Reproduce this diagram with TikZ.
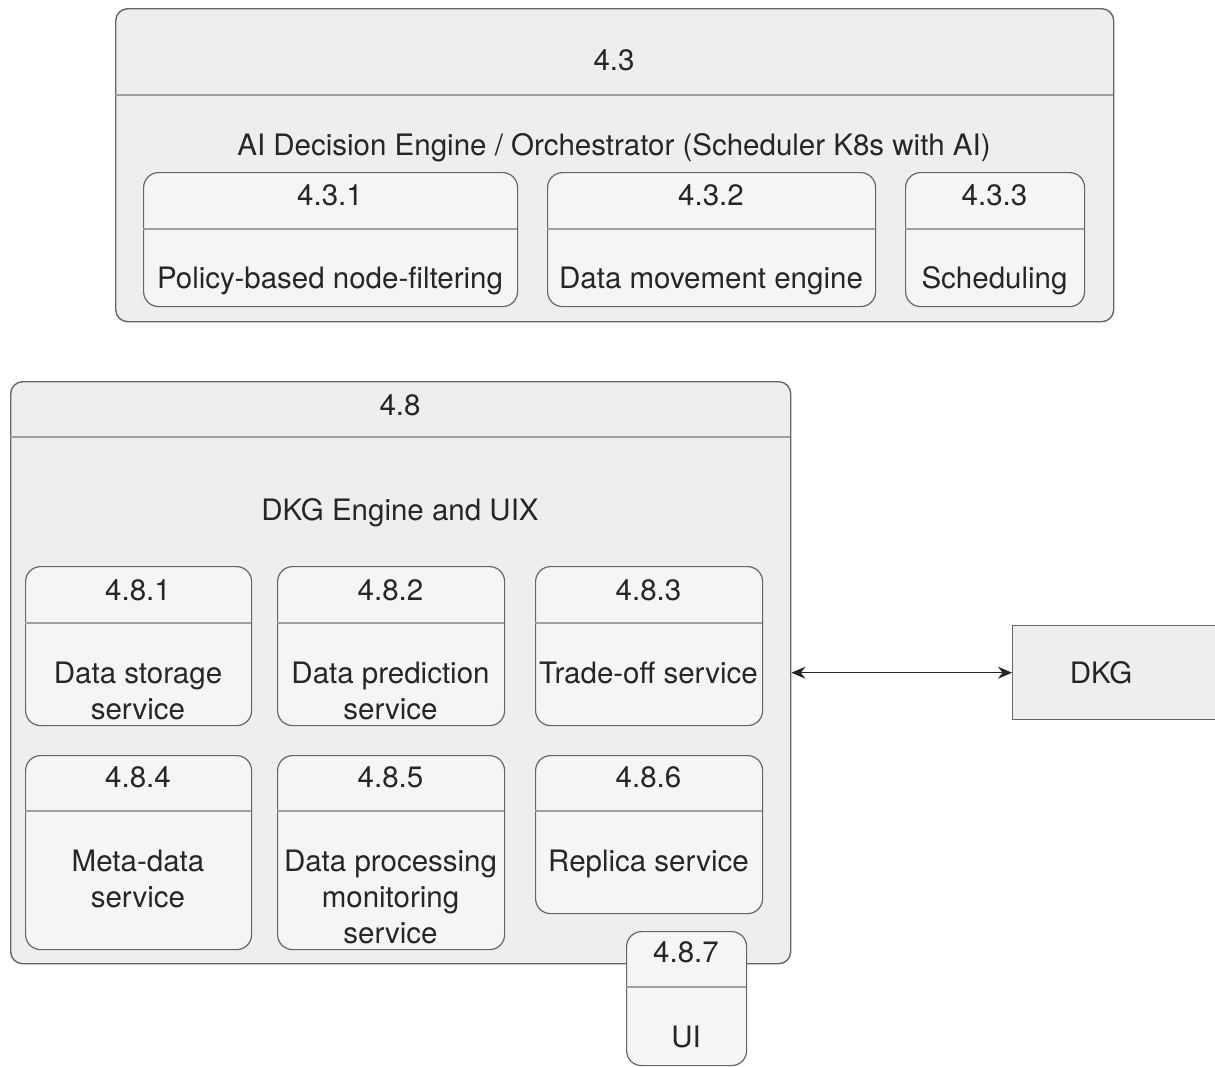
\documentclass[tikz,border=0pt]{standalone}
\usepackage{fontspec}
\setmainfont{TeX Gyre Heros}
\usetikzlibrary{arrows.meta}

\definecolor{lanefill}{HTML}{EEEEEE}
\definecolor{cellfill}{HTML}{F5F5F5}
\definecolor{edgegray}{HTML}{666666}
\definecolor{sepgray}{HTML}{A0A0A0}
\definecolor{ink}{HTML}{262626}

% a box with a title strip: name, x1, y1, x2, y2, y of the strip line, style
\newcommand{\stripbox}[7]{%
  \node[#7, anchor=north west, inner sep=0pt,
        minimum width={(#4-#2)*1pt}, minimum height={(#5-#3)*1pt}] (#1) at (#2,#3) {};
  \draw[sepline] (#2,#6) -- (#4,#6);
}

\begin{document}
\begin{tikzpicture}[x=1pt,y=-1pt,
  lane/.style={draw=edgegray, fill=lanefill, line width=1.4pt, rounded corners=12pt},
  cell/.style={draw=edgegray, fill=cellfill, line width=1.2pt, rounded corners=15pt},
  plainbox/.style={draw=edgegray, fill=lanefill, line width=1.4pt},
  sepline/.style={draw=sepgray, line width=1.2pt},
  lbl/.style={text=ink, font=\fontsize{29.5}{36}\selectfont, inner sep=0pt, align=center},
  conn/.style={draw=black!85, line width=1.5pt, {Stealth[length=14pt,width=12pt]}-{Stealth[length=14pt,width=12pt]}}
]
\useasboundingbox (0,0) rectangle (1215,1066);
\clip (0,0) rectangle (1215,1066);

% ---- 4.3 AI decision engine ----
\stripbox{e43}{115}{8}{1113}{321}{95}{lane}
\node[lbl] (e43t) at (614,60) {4.3};
\node[lbl] (e43b) at (614,148) {AI Decision Engine / Orchestrator (Scheduler K8s with AI)};

\stripbox{e431}{143}{172}{517}{306}{229}{cell}
\node[lbl] (e431t) at (330,195) {4.3.1};
\node[lbl] (e431b) at (330,281) {Policy-based node-filtering};

\stripbox{e432}{547}{172}{875}{306}{229}{cell}
\node[lbl] (e432t) at (711,195) {4.3.2};
\node[lbl] (e432b) at (711,281) {Data movement engine};

\stripbox{e433}{905}{172}{1084}{306}{229}{cell}
\node[lbl] (e433t) at (994.5,195) {4.3.3};
\node[lbl] (e433b) at (994.5,281) {Scheduling};

% ---- 4.8 DKG engine and UIX ----
\stripbox{e48}{10}{381}{790}{963}{437}{lane}
\node[lbl] (e48t) at (400,405) {4.8};
\node[lbl] (e48b) at (400,513) {DKG Engine and UIX};

\stripbox{e481}{25}{566}{251}{725}{623}{cell}
\node[lbl] (e481t) at (138,590) {4.8.1};
\node[lbl] (e481b) at (138,691) {Data storage\\service};

\stripbox{e482}{277}{566}{504}{725}{623}{cell}
\node[lbl] (e482t) at (390.5,590) {4.8.2};
\node[lbl] (e482b) at (390.5,691) {Data prediction\\service};

\stripbox{e483}{535}{566}{762}{725}{623}{cell}
\node[lbl] (e483t) at (648.5,590) {4.8.3};
\node[lbl] (e483b) at (648.5,673) {Trade-off service};

\stripbox{e484}{25}{755}{251}{949}{811}{cell}
\node[lbl] (e484t) at (138,777) {4.8.4};
\node[lbl] (e484b) at (138,879) {Meta-data\\service};

\stripbox{e485}{277}{755}{504}{949}{811}{cell}
\node[lbl] (e485t) at (390.5,777) {4.8.5};
\node[lbl] (e485b) at (390.5,897) {Data processing\\monitoring\\service};

\stripbox{e486}{535}{755}{762}{913}{811}{cell}
\node[lbl] (e486t) at (648.5,777) {4.8.6};
\node[lbl] (e486b) at (648.5,864) {Replica service};

\stripbox{e487}{626}{931}{746}{1065}{987}{cell}
\node[lbl] (e487t) at (686,952) {4.8.7};
\node[lbl] (e487b) at (686,1037) {UI};

% ---- external DKG ----
\node[plainbox, anchor=north west, inner sep=0pt,
      minimum width=220pt, minimum height=94pt] (dkg) at (1012,625) {};
\node[lbl] (dkgt) at (1101,673) {DKG};

\draw[conn] (e48.east) -- (dkg.west);
\end{tikzpicture}
\end{document}
